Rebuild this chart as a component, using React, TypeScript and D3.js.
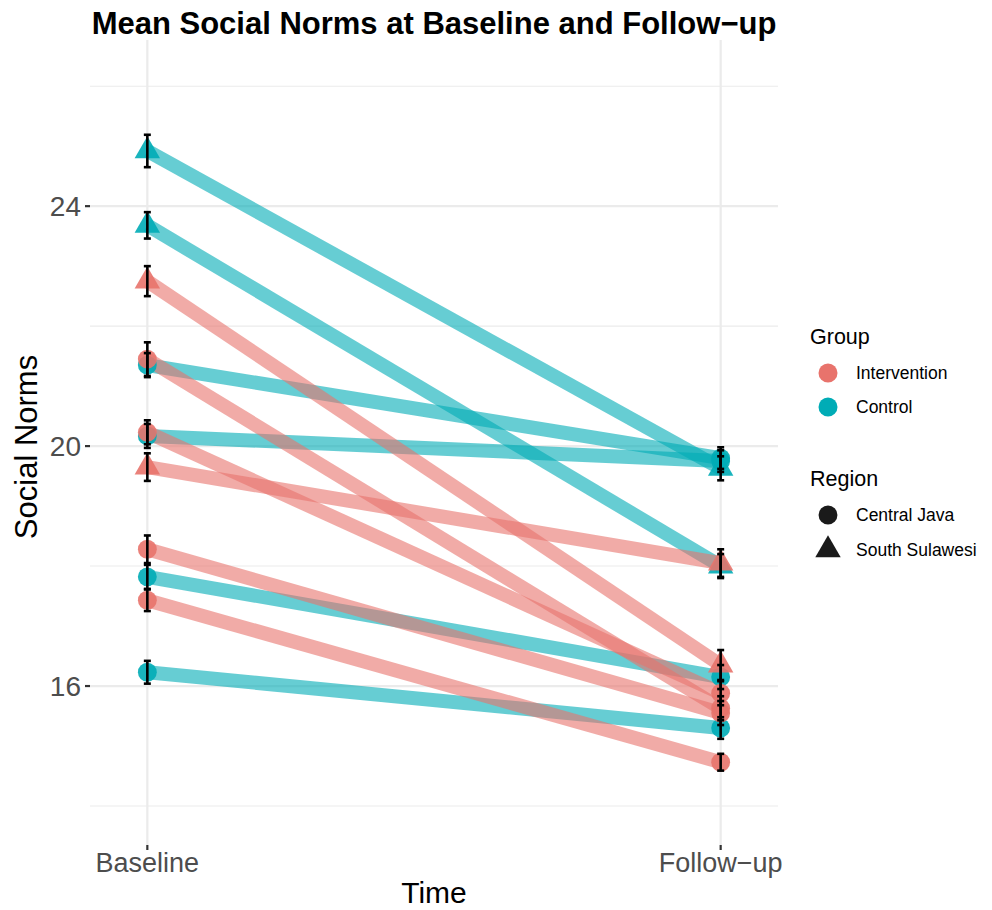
import React, { useEffect, useRef } from "react";
import * as d3 from "d3";

const timeLabels = ["Baseline", "Follow\u2212up"];
const groups = ["Control", "Control", "Control", "Control", "Control", "Control",
  "Intervention", "Intervention", "Intervention", "Intervention", "Intervention", "Intervention"];
const regions = ["South Sulawesi", "South Sulawesi", "Central Java", "Central Java", "Central Java", "Central Java",
  "South Sulawesi", "Central Java", "Central Java", "South Sulawesi", "Central Java", "Central Java"];
const baseline = [24.92, 23.68, 21.35, 20.17, 17.82, 16.23, 22.75, 21.45, 20.23, 19.65, 18.28, 17.43];
const followUp = [19.63, 18.0, 19.8, 19.75, 16.15, 15.3, 16.35, 15.63, 15.88, 18.05, 15.55, 14.73];
const baselineSE = [0.27, 0.22, 0.2, 0.2, 0.2, 0.19, 0.25, 0.28, 0.2, 0.23, 0.23, 0.18];
const followUpSE = [0.2, 0.2, 0.18, 0.18, 0.2, 0.18, 0.25, 0.2, 0.2, 0.23, 0.2, 0.14];
const yTicks = [16, 20, 24];
const yMinor = [14, 18, 22, 26];
const groupNames = ["Intervention", "Control"];
const regionNames = ["Central Java", "South Sulawesi"];

const W = 992, H = 910;
const FONT = "'Liberation Sans', Arial, sans-serif";

function App() {
  const ref = useRef<SVGSVGElement>(null);

  useEffect(() => {
    const svg = d3.select(ref.current);
    svg.selectAll("*").remove();

    const left = 90, right = 778, top = 40, bottom = 845;
    const x = d3.scalePoint<string>().domain(timeLabels).range([left, right]).padding(0.1);
    const y = d3.scaleLinear().domain([13.35, 26.77]).range([bottom, top]);
    const color = d3.scaleOrdinal<string, string>().domain(groupNames).range(["#E8736C", "#00ACB6"]);
    const shape = d3.scaleOrdinal<string, d3.SymbolType>().domain(regionNames).range([d3.symbolCircle, d3.symbolTriangle]);

    // grid
    const grid = svg.append("g");
    grid.selectAll(".minor").data(yMinor).enter().append("line")
      .attr("x1", left).attr("x2", right)
      .attr("y1", d => y(d)).attr("y2", d => y(d))
      .attr("stroke", "#ebebeb").attr("stroke-width", 1.1);
    grid.selectAll(".major").data(yTicks).enter().append("line")
      .attr("x1", left).attr("x2", right)
      .attr("y1", d => y(d)).attr("y2", d => y(d))
      .attr("stroke", "#ebebeb").attr("stroke-width", 2.2);
    grid.selectAll(".vx").data(timeLabels).enter().append("line")
      .attr("x1", d => x(d)!).attr("x2", d => x(d)!)
      .attr("y1", top).attr("y2", bottom)
      .attr("stroke", "#ebebeb").attr("stroke-width", 2.2);

    const idx = d3.range(baseline.length);

    // lines
    svg.append("g").selectAll("line").data(idx).enter().append("line")
      .attr("x1", x(timeLabels[0])!).attr("x2", x(timeLabels[1])!)
      .attr("y1", i => y(baseline[i])).attr("y2", i => y(followUp[i]))
      .attr("stroke", i => color(groups[i]))
      .attr("stroke-opacity", 0.6)
      .attr("stroke-width", 14);

    const pts: { t: string; v: number; se: number; i: number }[] = [];
    idx.forEach(i => {
      pts.push({ t: timeLabels[0], v: baseline[i], se: baselineSE[i], i });
      pts.push({ t: timeLabels[1], v: followUp[i], se: followUpSE[i], i });
    });

    // points
    svg.append("g").selectAll("path").data(pts).enter().append("path")
      .attr("d", d => d3.symbol().type(shape(regions[d.i])).size(280)())
      .attr("transform", d => `translate(${x(d.t)},${y(d.v)})`)
      .attr("fill", d => color(groups[d.i]))
      .attr("fill-opacity", 0.9);

    // error bars
    const eb = svg.append("g").attr("stroke", "#000").attr("stroke-width", 2.6);
    pts.forEach(d => {
      const cx = x(d.t)!;
      eb.append("line").attr("x1", cx).attr("x2", cx).attr("y1", y(d.v - d.se)).attr("y2", y(d.v + d.se));
      [d.v - d.se, d.v + d.se].forEach(v => {
        eb.append("line").attr("x1", cx - 3.5).attr("x2", cx + 3.5).attr("y1", y(v)).attr("y2", y(v));
      });
    });

    // y axis
    const ya = svg.append("g");
    ya.selectAll("line").data(yTicks).enter().append("line")
      .attr("x1", left - 5).attr("x2", left).attr("y1", d => y(d)).attr("y2", d => y(d))
      .attr("stroke", "#333").attr("stroke-width", 2.2);
    ya.selectAll("text").data(yTicks).enter().append("text")
      .attr("x", left - 9).attr("y", d => y(d)).attr("dy", "0.36em")
      .attr("text-anchor", "end").attr("font-family", FONT).attr("font-size", 28)
      .attr("fill", "#4d4d4d").text(d => d);

    // x axis
    const xa = svg.append("g");
    xa.selectAll("line").data(timeLabels).enter().append("line")
      .attr("x1", d => x(d)!).attr("x2", d => x(d)!).attr("y1", bottom).attr("y2", bottom + 5)
      .attr("stroke", "#333").attr("stroke-width", 2.2);
    xa.selectAll("text").data(timeLabels).enter().append("text")
      .attr("x", d => x(d)!).attr("y", 872)
      .attr("text-anchor", "middle").attr("font-family", FONT).attr("font-size", 27)
      .attr("fill", "#4d4d4d").text(d => d);

    svg.append("text").attr("x", (left + right) / 2).attr("y", 903)
      .attr("text-anchor", "middle").attr("font-family", FONT).attr("font-size", 30)
      .text("Time");
    svg.append("text").attr("transform", `translate(37,447) rotate(-90)`)
      .attr("text-anchor", "middle").attr("font-family", FONT).attr("font-size", 31)
      .text("Social Norms");
    svg.append("text").attr("x", (left + right) / 2).attr("y", 34)
      .attr("text-anchor", "middle").attr("font-family", FONT).attr("font-size", 31)
      .attr("font-weight", "bold").text("Mean Social Norms at Baseline and Follow\u2212up");

    // legend
    const lg = svg.append("g").attr("font-family", FONT);
    lg.append("text").attr("x", 810).attr("y", 344).attr("font-size", 21.5).text("Group");
    groupNames.forEach((g, k) => {
      const cy = 373 + k * 34;
      lg.append("circle").attr("cx", 828).attr("cy", cy).attr("r", 9.5).attr("fill", color(g));
      lg.append("text").attr("x", 856).attr("y", cy).attr("dy", "0.36em").attr("font-size", 17.5).text(g);
    });
    lg.append("text").attr("x", 810).attr("y", 486).attr("font-size", 21.5).text("Region");
    regionNames.forEach((r, k) => {
      const cy = 515 + k * 35;
      lg.append("path").attr("d", d3.symbol().type(shape(r)).size(280)())
        .attr("transform", `translate(828,${cy})`).attr("fill", "#1a1a1a");
      lg.append("text").attr("x", 856).attr("y", cy).attr("dy", "0.36em").attr("font-size", 17.5).text(r);
    });
  }, []);

  return <svg ref={ref} width={W} height={H} style={{ position: "absolute", left: 0, top: 0 }} />;
}

export default App;
